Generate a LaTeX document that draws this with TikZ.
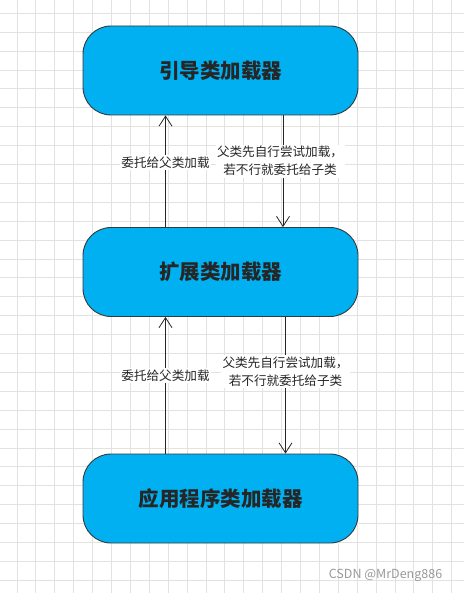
\documentclass[tikz,border=0pt]{standalone}
\usepackage{fontspec}
\setmainfont{Noto Sans CJK SC}
\usetikzlibrary{arrows.meta,positioning}
\definecolor{ldfill}{HTML}{00B0F0}
\definecolor{ldedge}{HTML}{2E3A40}
\definecolor{ldgrid}{HTML}{E2E2E2}
\definecolor{ldmark}{HTML}{9A9A9A}
\tikzset{
  ldbox/.style={draw=ldedge, line width=0.9pt, fill=ldfill, rounded corners=28pt,
    minimum width=275pt, minimum height=89pt, font=\fontsize{20.5}{22}\selectfont\bfseries, text=black!85},
  arr/.style={-{Straight Barb[length=10pt,width=13pt,line width=0.8pt]}, line width=0.9pt, color=black!85},
  lbl/.style={fill=white, inner sep=1.5pt, align=center, font=\fontsize{12.6}{18}\selectfont, text=black!85},
}
\begin{document}
\begin{tikzpicture}[x=1pt,y=-1pt]
  \useasboundingbox (0,0) rectangle (464,593);
  \fill[white] (0,0) rectangle (464,593);
  % grid paper
  \foreach \k in {0,...,24} { \draw[ldgrid, line width=0.9pt] (17+18.9*\k,0) -- (17+18.9*\k,593); }
  \foreach \k in {0,...,30} { \draw[ldgrid, line width=0.9pt] (0,13.3+18.9*\k) -- (464,13.3+18.9*\k); }
  \node[ldbox] (boot) at (220.5,70.5) {引导类加载器};
  \node[ldbox] (ext) at (220.5,272) {扩展类加载器};
  \node[ldbox] (app) at (220.5,498.5) {应用程序类加载器};
  \draw[arr] ([xshift=-55pt]ext.north) -- node[lbl, pos=0.58]{委托给父类加载} ([xshift=-55pt]boot.south);
  \draw[arr] ([xshift=62.5pt]boot.south) -- node[lbl, pos=0.41, xshift=-3pt]{父类先自行尝试加载，\\若不行就委托给子类} ([xshift=62.5pt]ext.north);
  \draw[arr] ([xshift=-55pt]app.north) -- node[lbl, pos=0.57]{委托给父类加载} ([xshift=-55pt]ext.south);
  \draw[arr] ([xshift=65pt]ext.south) -- node[lbl, pos=0.40]{父类先自行尝试加载，\\若不行就委托给子类} ([xshift=65pt]app.north);
  \node[font=\fontsize{12.5}{14}\selectfont, text=ldmark] (mark) at (385.5,575) {CSDN @MrDeng886};
\end{tikzpicture}
\end{document}
